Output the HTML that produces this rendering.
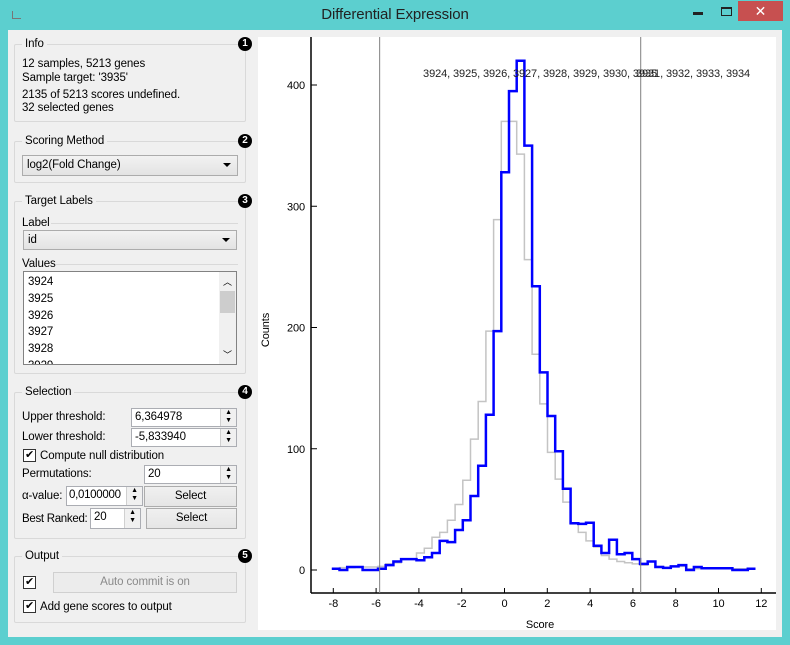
<!DOCTYPE html>
<html><head><meta charset="utf-8">
<style>
*{box-sizing:border-box;margin:0;padding:0}
body{width:790px;height:645px;position:relative;overflow:hidden;background:#5ccfcf;font-family:"Liberation Sans",sans-serif;font-size:11.5px;letter-spacing:-0.1px;color:#000}
.abs{position:absolute}
.gb{position:absolute;border:1px solid #d9d9d9;border-radius:2px}
.gt{position:absolute;background:#f0f0f0;padding:0 3px;line-height:14px}
.badge{position:absolute;width:14px;height:14px;border-radius:7px;background:#000;color:#fff;font-size:10px;font-weight:bold;text-align:center;line-height:14px}
.t{position:absolute;line-height:14px;white-space:nowrap}
.combo{position:absolute;background:linear-gradient(#f2f2f2,#e3e3e3);border:1px solid #acacac;line-height:18px;padding-left:4px}
.arrow{position:absolute;right:6px;top:7px;width:0;height:0;border-left:4px solid transparent;border-right:4px solid transparent;border-top:4px solid #000}
.inp{position:absolute;background:#fff;border:1px solid #abadb3;line-height:17px;padding-left:3px;white-space:nowrap;overflow:hidden}
.spin{position:absolute;right:0;top:0;bottom:0;width:16px;border-left:1px solid #d0d0d0;background:#f0f0f0;font-size:7px;line-height:8px;text-align:center}
.btn{position:absolute;background:linear-gradient(#f0f0f0,#e5e5e5);border:1px solid #acacac;text-align:center;line-height:18px}
.cb{position:absolute;width:13px;height:13px;border:1px solid #333;background:#fff;font-size:11px;line-height:11px;text-align:center}
.hl{position:absolute;height:1px;background:#d9d9d9}
</style></head><body>
<div class="abs" style="left:0;top:0;width:790px;height:30px;background:#5ccfcf">
  <div class="t" style="left:0;width:790px;text-align:center;top:8px;font-size:15px;color:#222">Differential Expression</div>
  <div class="abs" style="left:12px;top:11px;width:9px;height:8px;border-left:1px solid #777;border-bottom:1px solid #777"></div>
  <div class="abs" style="left:693px;top:12px;width:10px;height:3px;background:#222"></div>
  <div class="abs" style="left:721px;top:7px;width:11px;height:9px;border:1px solid #222;border-top-width:2px"></div>
  <div class="abs" style="left:738px;top:1px;width:45px;height:20px;background:#c75050;color:#fff;text-align:center;font-size:14px;line-height:20px">✕</div>
</div>
<div class="abs" style="left:8px;top:30px;width:774px;height:607px;background:#f0f0f0"></div>

<!-- Info -->
<div class="gb" style="left:14px;top:44px;width:232px;height:78px"></div>
<div class="gt" style="left:22px;top:37px">Info</div>
<div class="badge" style="left:238px;top:37px">1</div>
<div class="t" style="left:22px;top:57px">12 samples, 5213 genes</div>
<div class="t" style="left:22px;top:71px">Sample target: '3935'</div>
<div class="t" style="left:22px;top:88px">2135 of 5213 scores undefined.</div>
<div class="t" style="left:22px;top:101px">32 selected genes</div>

<!-- Scoring -->
<div class="gb" style="left:14px;top:141px;width:232px;height:42px"></div>
<div class="gt" style="left:22px;top:134px">Scoring Method</div>
<div class="badge" style="left:238px;top:134px">2</div>
<div class="combo" style="left:22px;top:155px;width:216px;height:21px">log2(Fold Change)<div class="arrow"></div></div>

<!-- Target labels -->
<div class="gb" style="left:14px;top:201px;width:232px;height:173px"></div>
<div class="gt" style="left:22px;top:194px">Target Labels</div>
<div class="badge" style="left:238px;top:194px">3</div>
<div class="t" style="left:22px;top:216px">Label</div>
<div class="hl" style="left:51px;top:223px;width:187px"></div>
<div class="combo" style="left:23px;top:230px;width:214px;height:20px">id<div class="arrow"></div></div>
<div class="t" style="left:22px;top:257px">Values</div>
<div class="hl" style="left:56px;top:264px;width:182px"></div>
<div class="abs" style="left:23px;top:271px;width:214px;height:94px;background:#fff;border:1px solid #828282;overflow:hidden">
  <div class="t" style="left:4px;top:3px">3924</div>
  <div class="t" style="left:4px;top:20px">3925</div>
  <div class="t" style="left:4px;top:37px">3926</div>
  <div class="t" style="left:4px;top:53px">3927</div>
  <div class="t" style="left:4px;top:70px">3928</div>
  <div class="t" style="left:4px;top:87px">3929</div>
  <div class="abs" style="left:195px;top:0;width:17px;height:92px;background:#f0f0f0">
    <div class="t" style="left:4px;top:3px;font-size:9px">︿</div>
    <div class="abs" style="left:1px;top:19px;width:15px;height:22px;background:#cdcdcd"></div>
    <div class="t" style="left:4px;top:76px;font-size:9px">﹀</div>
  </div>
</div>

<!-- Selection -->
<div class="gb" style="left:14px;top:392px;width:232px;height:147px"></div>
<div class="gt" style="left:22px;top:385px">Selection</div>
<div class="badge" style="left:238px;top:385px">4</div>
<div class="t" style="left:22px;top:410px">Upper threshold:</div>
<div class="inp" style="left:131px;top:408px;width:106px;height:19px">6,364978<div class="spin">▲<br>▼</div></div>
<div class="t" style="left:22px;top:430px">Lower threshold:</div>
<div class="inp" style="left:131px;top:428px;width:106px;height:19px">-5,833940<div class="spin">▲<br>▼</div></div>
<div class="cb" style="left:23px;top:449px">✔</div>
<div class="t" style="left:40px;top:449px">Compute null distribution</div>
<div class="t" style="left:22px;top:467px">Permutations:</div>
<div class="inp" style="left:144px;top:465px;width:93px;height:19px">20<div class="spin">▲<br>▼</div></div>
<div class="t" style="left:22px;top:489px">α-value:</div>
<div class="inp" style="left:66px;top:486px;width:77px;height:20px;padding-left:2px;letter-spacing:-0.3px">0,0100000<div class="spin">▲<br>▼</div></div>
<div class="btn" style="left:144px;top:486px;width:93px;height:21px">Select</div>
<div class="t" style="left:22px;top:512px;letter-spacing:-0.3px">Best Ranked:</div>
<div class="inp" style="left:90px;top:508px;width:51px;height:21px">20<div class="spin">▲<br>▼</div></div>
<div class="btn" style="left:146px;top:508px;width:91px;height:21px">Select</div>

<!-- Output -->
<div class="gb" style="left:14px;top:556px;width:232px;height:67px"></div>
<div class="gt" style="left:22px;top:549px">Output</div>
<div class="badge" style="left:238px;top:549px">5</div>
<div class="cb" style="left:23px;top:576px">✔</div>
<div class="btn" style="left:53px;top:572px;width:184px;height:21px;color:#8a8a8a;background:#ececec;border-color:#d0d0d0">Auto commit is on</div>
<div class="cb" style="left:23px;top:600px">✔</div>
<div class="t" style="left:40px;top:600px">Add gene scores to output</div>

<!-- Chart -->
<div class="abs" style="left:258px;top:37px;width:518px;height:593px;background:#fff"></div>
<svg id="chart" width="790" height="645" style="position:absolute;left:0;top:0" font-family="Liberation Sans, sans-serif" font-size="11"></svg>

<script>
const blueCounts=[1,0,2.5,2.5,0,0,1,4,7,9,9,8,10.5,14,24,23,33,41,61,86,128,197,328,395,420,350,234,163,127,98,67,38.5,38,39,20,14,25,13,14,9,5,7,2.5,1.7,3,4,0,2.5,1.4,1.4,1.4,1.4,0,0,1];
const nullCounts=[1,2,2,2.5,2.5,2.5,3,5,6,9,9,14,18,27,31,41,54,74,108,139,197,289,370,370,343,256,178,137,97,75,56,38,31,24,19,12,9,7,6,5,4,7,3,2,3,3,1,1,1,1,1,1,1,1,1];
const binStart=-8.07;
const binWidth=0.36;
const xTicks=[-8,-6,-4,-2,0,2,4,6,8,10,12];
const yTicks=[0,100,200,300,400];
const thresholds=[-5.833940,6.364978];
const leftLabel="3924, 3925, 3926, 3927, 3928, 3929, 3930, 3935";
const rightLabel="3931, 3932, 3933, 3934";

const NS="http://www.w3.org/2000/svg";
const svg=document.getElementById('chart');
const X=v=>504.5+21.4*v;
const Y=c=>570-1.2125*c;
function mk(tag,attrs,parent){const e=document.createElementNS(NS,tag);for(const k in attrs)e.setAttribute(k,attrs[k]);(parent||svg).appendChild(e);return e;}

let ax=mk('line',{x1:311,y1:37,x2:311,y2:593,stroke:'#000','stroke-width':1.5});


ax=mk('line',{x1:311,y1:593,x2:776,y2:593,stroke:'#000','stroke-width':1.5});


yTicks.forEach(t=>{
  const tk=mk('line',{x1:311,x2:317,y1:Y(t),y2:Y(t),stroke:'#000'});
  
  
  const lb=mk('text',{x:305,y:Y(t)+4,'text-anchor':'end'});lb.textContent=t;
  
  
});
xTicks.forEach(t=>{
  const tk=mk('line',{x1:X(t),x2:X(t),y1:593,y2:588,stroke:'#000'});
  
  
  const lb=mk('text',{x:X(t),y:607,'text-anchor':'middle'});lb.textContent=t;
  
  
});
let tt=mk('text',{x:540,y:628,'text-anchor':'middle'});tt.textContent='Score';


tt=mk('text',{x:269,y:330,'text-anchor':'middle',transform:'rotate(-90 269 330)'});tt.textContent='Counts';



function stepPath(arr){
  let d='';
  arr.forEach((c,i)=>{
    const x0=X(binStart+i*binWidth),x1=X(binStart+(i+1)*binWidth),y=Y(c);
    d+=(i===0?'M':'L')+x0.toFixed(1)+','+y.toFixed(1)+'L'+x1.toFixed(1)+','+y.toFixed(1);
  });
  return d;
}
const g=mk('path',{d:stepPath(nullCounts),fill:'none',stroke:'#c4c4c4','stroke-width':1.5});


const b=mk('path',{d:stepPath(blueCounts),fill:'none',stroke:'#0000ff','stroke-width':2.5});



thresholds.forEach((t,i)=>{
  const l=mk('line',{x1:X(t),x2:X(t),y1:37,y2:593,stroke:'#808080','stroke-width':1});
  
  
});
let lt=mk('text',{x:657,y:77,'text-anchor':'end',fill:'#222'});lt.textContent=leftLabel;


lt=mk('text',{x:636,y:77,'text-anchor':'start',fill:'#222'});lt.textContent=rightLabel;


</script>
</body></html>
